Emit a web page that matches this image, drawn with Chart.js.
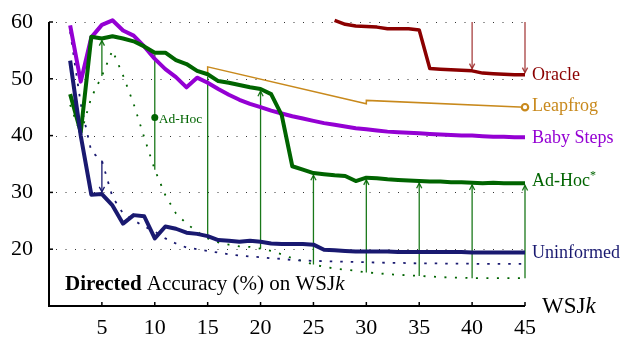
<!DOCTYPE html>
<html>
<head>
<meta charset="utf-8">
<script src="https://cdn.jsdelivr.net/npm/chart.js@4"></script>
<style>
  body { margin: 0; background: #fff; }
</style>
</head>
<body>
<canvas id="chart" width="623" height="339"></canvas>
<script>
// WSJk training lengths
const wsjK = [2, 3, 4, 5, 6, 7, 8, 9, 10, 11, 12, 13, 14, 15, 16, 17, 18, 19, 20, 21, 22, 23,
  24, 25, 26, 27, 28, 29, 30, 31, 32, 33, 34, 35, 36, 37, 38, 39, 40, 41, 42, 43, 44, 45];

const uninformed = [53.2, 40.0, 29.6, 29.7, 27.7, 24.5, 26.0, 25.8, 21.9, 24.0, 23.6, 22.9, 22.7, 22.3,
  21.6, 21.5, 21.3, 21.5, 21.3, 21.0, 20.9, 20.9, 20.9, 20.8, 19.9, 19.8, 19.7, 19.6, 19.6, 19.6,
  19.6, 19.5, 19.5, 19.5, 19.5, 19.5, 19.5, 19.5, 19.4, 19.4, 19.4, 19.4, 19.4, 19.4];

const babySteps = [59.4, 49.5, 57.3, 59.5, 60.3, 58.5, 57.6, 55.7, 53.5, 51.7, 50.3, 48.5, 50.2, 49.3,
  48.2, 47.2, 46.3, 45.6, 45.0, 44.4, 43.9, 43.4, 43.0, 42.6, 42.2, 41.9, 41.6, 41.3, 41.1, 40.9,
  40.7, 40.6, 40.5, 40.4, 40.3, 40.2, 40.1, 40.0, 40.0, 39.9, 39.8, 39.8, 39.7, 39.7];

const adHocStar = [47.3, 40.6, 57.4, 57.1, 57.5, 57.1, 56.6, 55.7, 54.6, 54.6, 53.3, 52.6, 51.4, 50.8,
  49.6, 49.3, 48.9, 48.5, 48.2, 47.3, 43.6, 34.6, 34.0, 33.4, 33.2, 33.0, 32.9, 32.0, 32.6, 32.5,
  32.3, 32.2, 32.1, 32.0, 31.9, 31.9, 31.8, 31.8, 31.7, 31.6, 31.7, 31.6, 31.6, 31.6];

const oracle = [null, null, null, null, null, null, null, null, null, null, null, null, null, null,
  null, null, null, null, null, null, null, null, null, null, null, 60.3, 59.6, 59.3, 59.2, 59.1,
  58.8, 58.8, 58.8, 58.6, 51.8, 51.7, 51.6, 51.5, 51.4, 51.0, 50.9, 50.8, 50.7, 50.7];

// dotted curves: starting points before training
const adHocInit = [45.4, 40.3, 46.7, 50.5, 55.0, 50.6, 45.6, 39.7, 34.0, 29.5, 26.3, 24.5, 23.1, 21.9,
  21.2, 20.8, 20.5, 20.4, 20.1, 19.7, 19.1, 18.4, 17.9, 17.3, 16.9, 16.6, 16.4, 16.2, 15.9, 15.8,
  15.6, 15.5, 15.4, 15.3, 15.2, 15.1, 15.0, 15.0, 14.9, 14.9, 14.9, 14.9, 14.9, 14.9];

const uninformedInit = [58.3, 45.6, 37.2, 35.6, 29.2, 26.3, 25.1, 24.0, 23.1, 21.9, 21.0, 20.3, 20.0, 19.7,
  19.4, 19.1, 18.9, 18.7, 18.6, 18.4, 18.3, 18.1, 18.0, 17.95, 17.9, 17.85, 17.8, 17.75, 17.7, 17.65,
  17.6, 17.6, 17.55, 17.5, 17.5, 17.5, 17.45, 17.45, 17.45, 17.4, 17.4, 17.4, 17.4, 17.4];

const leapfrogK = [15, 15, 30, 30, 45];
const leapfrog = [50.7, 52.1, 45.6, 46.2, 45.0];

const adHocK = [10];
const adHoc = [43.2];

const adHocArrowK = [5, 10, 15, 20, 25, 30, 35, 40, 45];
const headlessK = [10, 15];
const uninformedArrowK = [5];
const oracleArrowK = [40, 45];

const xTicks = [5, 10, 15, 20, 25, 30, 35, 40, 45];
const yTicks = [20, 30, 40, 50, 60];

const red = '#8b0000', gold = '#c8891c', purple = '#9400d3', green = '#006400', navy = '#191970';
const serif = '"Liberation Serif", "DejaVu Serif", serif';
Chart.defaults.font.family = serif;

function pts(xs, ys) {
  return xs.map((x, i) => ({x: x, y: ys[i]}));
}
function at(series, k) {
  return series[wsjK.indexOf(k)];
}

function arrow(ctx, px, fromPx, toPx, head) {
  ctx.beginPath();
  ctx.moveTo(px, fromPx);
  ctx.lineTo(px, toPx);
  ctx.stroke();
  if (!head) return;
  const d = toPx > fromPx ? -1 : 1;
  ctx.beginPath();
  ctx.moveTo(px - 2.6, toPx + d * 5);
  ctx.lineTo(px, toPx);
  ctx.lineTo(px + 2.6, toPx + d * 5);
  ctx.stroke();
}

function rich(ctx, x, y, parts) {
  parts.forEach(p => {
    ctx.font = p.font;
    ctx.fillText(p.text, x, y + (p.dy || 0));
    x += ctx.measureText(p.text).width;
  });
}

const decor = {
  id: 'decor',
  beforeDatasetsDraw(chart) {
    const {ctx, chartArea: a, scales: {x, y}} = chart;
    ctx.save();
    ctx.strokeStyle = '#333';
    ctx.lineWidth = 1;
    ctx.setLineDash([1, 8.5]);
    yTicks.forEach(v => {
      const py = Math.round(y.getPixelForValue(v)) + 0.5;
      ctx.beginPath();
      ctx.moveTo(a.left + 7, py);
      ctx.lineTo(a.right, py);
      ctx.stroke();
    });
    ctx.setLineDash([]);
    ctx.lineWidth = 1.3;

    ctx.strokeStyle = 'rgba(0,105,0,0.9)';
    adHocArrowK.forEach(k => {
      const px = x.getPixelForValue(k);
      arrow(ctx, px, y.getPixelForValue(at(adHocInit, k)), y.getPixelForValue(at(adHocStar, k)) + 2.2,
        !headlessK.includes(k));
    });
    ctx.strokeStyle = navy;
    uninformedArrowK.forEach(k => {
      const px = x.getPixelForValue(k);
      arrow(ctx, px, y.getPixelForValue(at(uninformedInit, k)), y.getPixelForValue(at(uninformed, k)) - 2.2, true);
    });
    ctx.strokeStyle = 'rgba(150,30,30,0.85)';
    oracleArrowK.forEach(k => {
      const px = x.getPixelForValue(k);
      arrow(ctx, px, y.getPixelForValue(60), y.getPixelForValue(at(oracle, k)) - 2.2, true);
    });
    ctx.restore();
  },
  afterDatasetsDraw(chart) {
    const {ctx, chartArea: a, scales: {x, y}} = chart;
    ctx.save();
    // axes with inward ticks
    ctx.strokeStyle = '#000';
    ctx.lineWidth = 2;
    ctx.beginPath();
    ctx.moveTo(a.left, a.top);
    ctx.lineTo(a.left, a.bottom);
    ctx.lineTo(a.right, a.bottom);
    ctx.stroke();
    ctx.lineWidth = 1.5;
    yTicks.forEach(v => {
      const py = y.getPixelForValue(v);
      ctx.beginPath(); ctx.moveTo(a.left, py); ctx.lineTo(a.left + 4, py); ctx.stroke();
    });
    xTicks.forEach(v => {
      const px = x.getPixelForValue(v);
      ctx.beginPath(); ctx.moveTo(px, a.bottom); ctx.lineTo(px, a.bottom - 4); ctx.stroke();
    });

    // series labels at the right end
    const lx = x.getPixelForValue(45) + 7;
    ctx.textBaseline = 'middle';
    ctx.textAlign = 'left';
    const f = '18px ' + serif;
    ctx.fillStyle = red;
    rich(ctx, lx, y.getPixelForValue(at(oracle, 45)) + 0.5, [{text: 'Oracle', font: f}]);
    ctx.fillStyle = gold;
    rich(ctx, lx, y.getPixelForValue(leapfrog[leapfrog.length - 1]) - 1, [{text: 'Leapfrog', font: f}]);
    ctx.fillStyle = purple;
    rich(ctx, lx, y.getPixelForValue(at(babySteps, 45)) + 0.5, [{text: 'Baby Steps', font: f}]);
    ctx.fillStyle = green;
    rich(ctx, lx, y.getPixelForValue(at(adHocStar, 45)) - 2, [
      {text: 'Ad-Hoc', font: f}, {text: '*', font: '12px ' + serif, dy: -5}]);
    ctx.fillStyle = navy;
    rich(ctx, lx, y.getPixelForValue(at(uninformed, 45)) + 0.5, [{text: 'Uninformed', font: f}]);

    ctx.fillStyle = green;
    rich(ctx, x.getPixelForValue(adHocK[0]) + 4, y.getPixelForValue(adHoc[0]) + 2, [{text: 'Ad-Hoc', font: '13.5px ' + serif}]);

    // caption inside the plot
    ctx.fillStyle = '#000';
    ctx.textBaseline = 'alphabetic';
    rich(ctx, a.left + 16, a.bottom - 16, [
      {text: 'Directed', font: 'bold 21px ' + serif},
      {text: ' Accuracy (%) on WSJ', font: '21px ' + serif},
      {text: 'k', font: 'italic 21px ' + serif}]);

    // x axis title
    rich(ctx, a.right + 17, a.bottom + 7, [
      {text: 'WSJ', font: '23px ' + serif},
      {text: 'k', font: 'italic 23px ' + serif}]);
    ctx.restore();
  }
};

const line = (label, ys, color, width, extra) => Object.assign({
  label: label,
  data: pts(wsjK, ys),
  showLine: true,
  borderColor: color,
  borderWidth: width,
  pointRadius: 0,
  borderJoinStyle: 'round',
  clip: false
}, extra || {});

new Chart(document.getElementById('chart').getContext('2d'), {
  type: 'scatter',
  data: {
    datasets: [
      {
        label: 'Ad-Hoc',
        data: pts(adHocK, adHoc),
        pointRadius: 3.5,
        pointBackgroundColor: green,
        pointBorderWidth: 0
      },
      line('Uninformed', uninformed, navy, 4),
      line('Ad-Hoc*', adHocStar, green, 4),
      line('Baby Steps', babySteps, purple, 4),
      {
        label: 'Leapfrog',
        data: pts(leapfrogK, leapfrog),
        showLine: true,
        borderColor: gold,
        borderWidth: 1.5,
        pointRadius: c => (c.dataIndex === leapfrog.length - 1 ? 3.2 : 0),
        pointBackgroundColor: '#fff',
        pointBorderColor: gold,
        pointBorderWidth: 2.2,
        clip: false
      },
      line('Oracle', oracle, red, 3.5),
      line('Uninformed start', uninformedInit, navy, 1.8, {borderDash: [2.5, 8]}),
      line('Ad-Hoc* start', adHocInit, green, 1.8, {borderDash: [2, 8.5]})
    ]
  },
  options: {
    responsive: false,
    animation: false,
    events: [],
    layout: {
      padding: {top: 22, right: 98, bottom: 0, left: 0}
    },
    plugins: {
      legend: {display: false},
      tooltip: {enabled: false}
    },
    scales: {
      x: {
        type: 'linear',
        min: 0,
        max: 45,
        grid: {display: false, drawTicks: false},
        border: {display: false},
        afterBuildTicks: s => { s.ticks = xTicks.map(v => ({value: v})); },
        afterFit: s => { s.height = 33; s.paddingLeft = 0; s.paddingRight = 0; },
        ticks: {
          color: '#000',
          font: {size: 22},
          padding: 9,
          maxRotation: 0,
          autoSkip: false
        }
      },
      y: {
        min: 10,
        max: 60,
        grid: {display: false, drawTicks: false},
        border: {display: false},
        afterBuildTicks: s => { s.ticks = yTicks.map(v => ({value: v})); },
        afterFit: s => { s.width = 49; s.paddingTop = 0; s.paddingBottom = 0; },
        ticks: {
          color: '#000',
          font: {size: 22},
          padding: 16
        }
      }
    }
  },
  plugins: [decor]
});
</script>
</body>
</html>
